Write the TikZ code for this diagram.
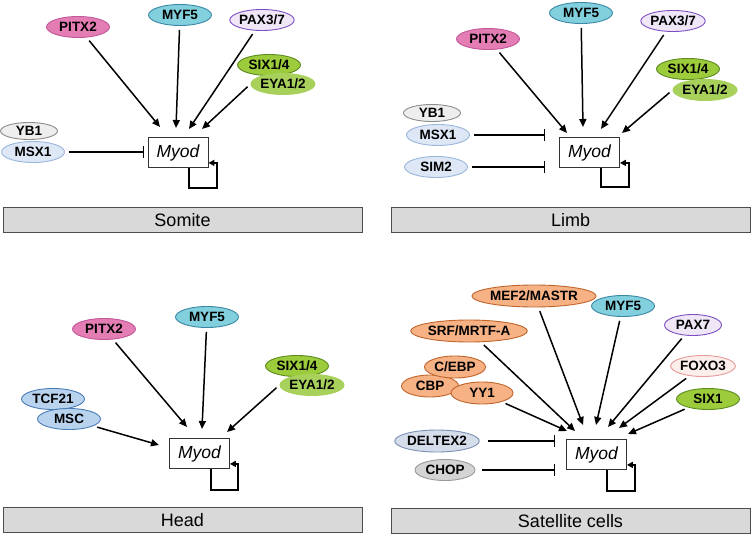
\documentclass[tikz,border=0pt]{standalone}
\usepackage{fontspec}
\setmainfont{Liberation Sans}
\usetikzlibrary{shapes.geometric,arrows.meta,calc}

\definecolor{pitxF}{HTML}{E37DB3}\definecolor{pitxD}{HTML}{C2579A}
\definecolor{myfF}{HTML}{82CFDD}\definecolor{myfD}{HTML}{3A87A6}
\definecolor{paxF}{HTML}{EFE6F8}\definecolor{paxD}{HTML}{7E4FC0}
\definecolor{sixF}{HTML}{9CCB3B}\definecolor{sixD}{HTML}{5C8A1E}
\definecolor{eyaF}{HTML}{A8D15B}
\definecolor{ybF}{HTML}{EEEEEE}\definecolor{ybD}{HTML}{8C8C8C}
\definecolor{msxF}{HTML}{DDE7F5}\definecolor{msxD}{HTML}{9AB6DC}
\definecolor{tcfF}{HTML}{B9D3EE}\definecolor{tcfD}{HTML}{4A7CB6}
\definecolor{orF}{HTML}{F6B184}\definecolor{orD}{HTML}{C0652B}
\definecolor{foxF}{HTML}{FCEEEB}\definecolor{foxD}{HTML}{E39A98}
\definecolor{delF}{HTML}{D5DCEA}\definecolor{delD}{HTML}{7D91B6}
\definecolor{chopF}{HTML}{D4D4D4}\definecolor{chopD}{HTML}{9A9A9A}
\definecolor{barF}{HTML}{D9D9D9}

\tikzset{
  gene/.style={ellipse, draw, line width=0.9pt, inner sep=0pt,
    minimum width=63pt, minimum height=21pt,
    font=\fontsize{13.5}{13.5}\selectfont\bfseries},
  pitx/.style={gene, fill=pitxF, draw=pitxD},
  myf/.style={gene, fill=myfF, draw=myfD},
  pax/.style={gene, fill=paxF, draw=paxD, minimum width=57pt},
  six/.style={gene, fill=sixF, draw=sixD},
  eya/.style={gene, fill=eyaF, draw=eyaF},
  yb/.style={gene, fill=ybF, draw=ybD, minimum width=57pt, minimum height=17pt},
  msx/.style={gene, fill=msxF, draw=msxD},
  tcf/.style={gene, fill=tcfF, draw=tcfD},
  ora/.style={gene, fill=orF, draw=orD, minimum height=22pt},
  fox/.style={gene, fill=foxF, draw=foxD},
  del/.style={gene, fill=delF, draw=delD, minimum width=73pt, minimum height=22pt},
  chop/.style={gene, fill=chopF, draw=chopD, minimum width=60pt},
  myod/.style={draw=black!80, fill=white, line width=0.8pt, minimum width=60pt,
    minimum height=30pt, inner sep=0pt, font=\fontsize{17.5}{17.5}\selectfont\itshape},
  tissue/.style={draw=black!70, fill=barF, line width=1pt, minimum width=359pt,
    minimum height=25pt, inner sep=0pt, font=\fontsize{18}{18}\selectfont},
  act/.style={line width=1.5pt, -{Triangle[length=8pt,width=7pt]}, shorten <=4pt},
  inh/.style={line width=1.5pt, -{Bar[width=12pt,line width=1.5pt]}, shorten <=4pt},
  selfloop/.style={line width=2pt, -{Triangle[length=6pt,width=6pt]}}
}

\begin{document}
\begin{tikzpicture}[x=1pt,y=-1pt]
\useasboundingbox (0,0) rectangle (751,537);

% ---------------- Somite ----------------
\node[pitx] (sPitx) at (78,27) {PITX2};
\node[myf]  (sMyf)  at (180,15) {MYF5};
\node[pax]  (sPax)  at (262,20) {PAX3/7};
\node[six]  (sSix)  at (269,65) {SIX1/4};
\node[eya]  (sEya)  at (283,84) {EYA1/2};
\node[yb]   (sYb)   at (29,131) {YB1};
\node[msx]  (sMsx)  at (33,152) {MSX1};
\node[myod] (sBox)  at (178,152.5) {Myod};
\node[tissue] (sBar) at (182.5,220) {Somite};
\coordinate (sE1) at (160,127);
\coordinate (sE2) at (176,128);
\coordinate (sE3) at (189,129);
\coordinate (sE4) at (202,129);
\coordinate (sI1) at (144,152);
\draw[act] (sPitx) -- (sE1);
\draw[act] (sMyf) -- (sE2);
\draw[act] (sPax) -- (sE3);
\draw[act] (sEya.west) -- (sE4);
\draw[inh] (sMsx.east) -- (sI1);
\draw[selfloop] ($(sBox.south)+(11,0)$) -- ++(0,20) -- ++(28,0) |- ($(sBox.south east)+(0,-5)$);

% ---------------- Limb ----------------
\node[myf]  (lMyf)  at (581,13) {MYF5};
\node[pitx] (lPitx) at (488,39) {PITX2};
\node[pax]  (lPax)  at (673,21) {PAX3/7};
\node[six]  (lSix)  at (688,69) {SIX1/4};
\node[eya]  (lEya)  at (705,90) {EYA1/2};
\node[yb]   (lYb)   at (432,113) {YB1};
\node[msx]  (lMsx)  at (438,135) {MSX1};
\node[msx]  (lSim)  at (436,167) {SIM2};
\node[myod] (lBox)  at (589.5,152.5) {Myod};
\node[tissue] (lBar) at (570.5,220) {Limb};
\coordinate (lE1) at (567,133);
\coordinate (lE2) at (583,127);
\coordinate (lE3) at (601,129);
\coordinate (lE4) at (622,133);
\coordinate (lI1) at (545,135);
\coordinate (lI2) at (545,167);
\draw[act] (lPitx) -- (lE1);
\draw[act] (lMyf) -- (lE2);
\draw[act] (lPax) -- (lE3);
\draw[act] (lEya.west) -- (lE4);
\draw[inh] (lMsx.east) -- (lI1);
\draw[inh] (lSim.east) -- (lI2);
\draw[selfloop] ($(lBox.south)+(11.5,0)$) -- ++(0,19) -- ++(28,0) |- ($(lBox.south east)+(0,-5)$);

% ---------------- Head ----------------
\node[pitx] (hPitx) at (104,329) {PITX2};
\node[myf]  (hMyf)  at (207,317) {MYF5};
\node[six]  (hSix)  at (297,366) {SIX1/4};
\node[eya]  (hEya)  at (312,385) {EYA1/2};
\node[tcf]  (hTcf)  at (53,399) {TCF21};
\node[tcf]  (hMsc)  at (69,419) {MSC};
\node[myod] (hBox)  at (199.5,453.5) {Myod};
\node[tissue] (hBar) at (182.5,520) {Head};
\coordinate (hE1) at (187,427);
\coordinate (hE2) at (202,429);
\coordinate (hE3) at (227,432);
\coordinate (hE4) at (159,445);
\draw[act] (hPitx) -- (hE1);
\draw[act] (hMyf) -- (hE2);
\draw[act] (hEya.west) -- (hE3);
\draw[act] (hMsc) -- (hE4);
\draw[selfloop] ($(hBox.south)+(11.5,0)$) -- ++(0,21) -- ++(27,0) |- ($(hBox.south east)+(0,-5)$);

% ---------------- Satellite cells ----------------
\node[ora, minimum width=106pt] (cMef) at (534,296) {MEF2/MASTR};
\node[myf]  (cMyf)  at (623,306) {MYF5};
\node[ora, minimum width=92pt] (cSrf) at (469,331) {SRF/MRTF-A};
\node[pax]  (cPax)  at (693,325) {PAX7};
\node[ora, minimum width=57pt] (cCbp) at (430,386) {CBP};
\node[ora, minimum width=61pt] (cCebp) at (455,367) {C/EBP};
\node[ora, minimum width=62pt] (cYy) at (482,393) {YY1};
\node[fox]  (cFox)  at (703,366) {FOXO3};
\node[six]  (cSix)  at (708,399) {SIX1};
\node[del]  (cDel)  at (437,441) {DELTEX2};
\node[chop] (cChop) at (445,470) {CHOP};
\node[myod] (cBox)  at (596.5,454.5) {Myod};
\node[tissue] (cBar) at (570.5,521) {Satellite cells};
\coordinate (cE1) at (567,431);
\coordinate (cE2) at (575,431);
\coordinate (cE3) at (583,425);
\coordinate (cE4) at (596,425);
\coordinate (cE5) at (608,427);
\coordinate (cE6) at (619,428);
\coordinate (cE7) at (628,434);
\coordinate (cI1) at (555,441);
\coordinate (cI2) at (555,470);
\draw[act] (cYy) -- (cE1);
\draw[act] (cSrf) -- (cE2);
\draw[act] (cMef) -- (cE3);
\draw[act] (cMyf) -- (cE4);
\draw[act] (cPax) -- (cE5);
\draw[act] (cFox) -- (cE6);
\draw[act] (cSix) -- (cE7);
\draw[inh, shorten <=8pt] (cDel.east) -- (cI1);
\draw[inh, shorten <=7pt] (cChop.east) -- (cI2);
\draw[selfloop] ($(cBox.south)+(10.5,0)$) -- ++(0,21) -- ++(28,0) |- ($(cBox.south east)+(0,-5)$);
\end{tikzpicture}
\end{document}
